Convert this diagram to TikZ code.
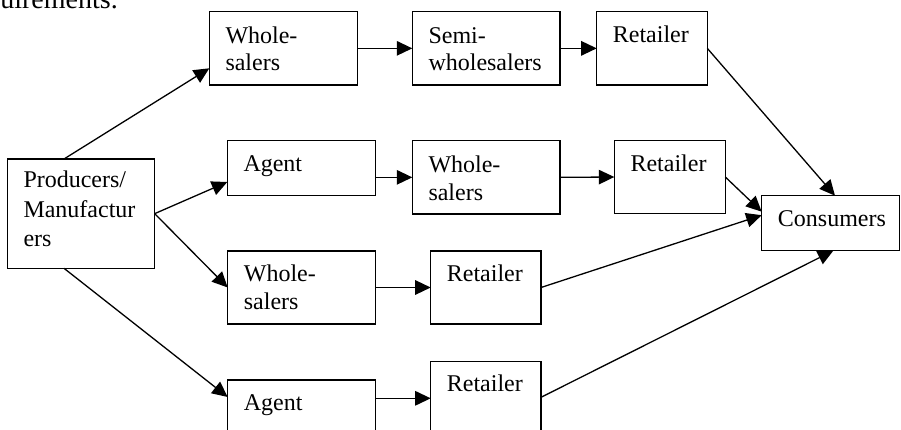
\documentclass[tikz,border=0pt]{standalone}
\usepackage{fontspec}
\setmainfont{Liberation Serif}
\usetikzlibrary{arrows.meta,calc}

% chain box: name, left, top, right, bottom, baseline offset, lines
\newcommand\chainbox[7]{%
  \node[box, minimum width=#4-#2, minimum height=#5-#3] (#1) at (#2,#3) {};
  \node[lbl] (#1-text) at ($(#1.north west)+(16,#6)$)
    {\parbox[t]{200pt}{\raggedright #7}};}

\begin{document}
\begin{tikzpicture}[x=1pt,y=-1pt,
  box/.style={draw, line width=1.4pt, inner sep=0pt, outer sep=0pt, anchor=north west},
  lbl/.style={anchor=base west, inner sep=0pt, font=\fontsize{24}{27.5}\selectfont},
  flow/.style={line width=1.3pt, -{Triangle[length=15.5pt,width=14.5pt]}}]
\useasboundingbox (0,0) rectangle (901,430);
\clip (0,0) rectangle (901,430);

% running text above the chart
\node[anchor=base east, inner sep=0pt, font=\fontsize{28}{32}\selectfont] (lead) at (118,8.5) {requirements.};

% producers
\node[box, minimum width=147.4, minimum height=109.3] (prod) at (7.3,159) {};
\node[anchor=base west, inner sep=0pt, font=\fontsize{24}{29.5}\selectfont] (prod-text)
  at ($(prod.north west)+(16,28.7)$)
  {\parbox[t]{200pt}{\raggedright Producers/\\Manufactur\\ers}};

% channel 1
\chainbox{wsa}{209.3}{11.7}{357.3}{85}{31.6}{Whole-\\salers}
\chainbox{semi}{412.3}{11.7}{560}{85}{31.6}{Semi-\\wholesalers}
\chainbox{reta}{596.7}{11.7}{707.3}{85}{31}{Retailer}
% channel 2
\chainbox{aga}{227.3}{140.7}{375.7}{195.7}{31}{Agent}
\chainbox{wsb}{412.3}{140.7}{560}{214}{32}{Whole-\\salers}
\chainbox{retb}{614.3}{140.7}{725.3}{213.3}{31}{Retailer}
% channel 3
\chainbox{wsc}{227.7}{251}{375.7}{324}{30.7}{Whole-\\salers}
\chainbox{retc}{430.7}{251}{541}{324}{30.7}{Retailer}
% channel 4
\chainbox{agb}{227.7}{380}{375.7}{440}{30}{Agent}
\chainbox{retd}{430.7}{361.7}{541}{440}{30}{Retailer}
% consumers
\chainbox{cons}{761.7}{195.7}{899.5}{250.7}{31}{Consumers}

% producers to first intermediaries
\draw[flow] ($(prod.north west)+(56.7,0)$) -- ($(wsa.north west)+(0,56.6)$);
\draw[flow] (prod.east) -- ($(aga.north west)+(0,41.3)$);
\draw[flow] (prod.east) -- (wsc.west);
\draw[flow] ($(prod.south west)+(56.7,0)$) -- ($(agb.north west)+(0,17)$);

% along each channel
\draw[flow] (wsa.east) -- (semi.west);
\draw[flow] (semi.east) -- (reta.west);
\draw[flow] (wsb.west -| aga.east) -- (wsb.west);
\draw[flow] (wsb.east) -- (retb.west);
\draw[flow] (wsc.east) -- (retc.west);
\draw[flow] ($(agb.north east)+(0,18.3)$) -- ($(retd.north west)+(0,36.6)$);

% retailers to consumers
\draw[flow] (reta.east) -- ($(cons.north west)+(73.3,0)$);
\draw[flow] (retb.east) -- ($(cons.west)+(0,-11.5)$);
\draw[flow] (retc.east) -- ($(cons.west)+(0,-8)$);
\draw[flow] ($(retd.north east)+(0,35.6)$) -- ($(cons.south west)+(71.6,0)$);
\end{tikzpicture}
\end{document}
